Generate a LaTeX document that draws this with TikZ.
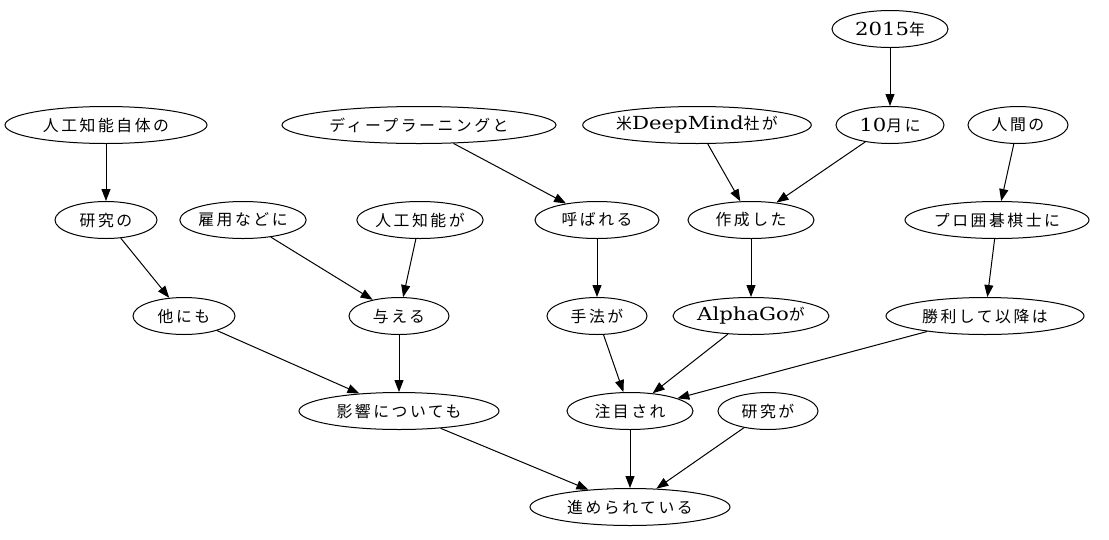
\documentclass[tikz,border=0pt]{standalone}
\usepackage{fontspec}
\setmainfont{DejaVu Serif}[FakeStretch=1.18]
\newfontfamily\jp[Scale=0.88, LetterSpace=16]{Noto Sans CJK JP}
\usetikzlibrary{shapes.geometric, arrows.meta, positioning}

\begin{document}
\begin{tikzpicture}[
        x=1pt, y=-1pt,
        >={Triangle[length=12pt, width=9pt]},
        word/.style={ellipse, draw, line width=1pt, inner sep=0pt, minimum height=37pt, font=\fontsize{18}{21}\selectfont},
        line/.style={draw, line width=1pt, ->}
    ]
        \useasboundingbox (0,0) rectangle (1109,539);

        % Top row
        \node [word, minimum width=116pt] (nen2015) at (890,29) {2015{\jp 年}};

        % Row 1
        \node [word, minimum width=202pt] (jinko_jitai) at (106,125) {\jp 人工知能自体の};
        \node [word, minimum width=274pt] (deep_learning) at (419,125) {\jp ディープラーニングと};
        \node [word, minimum width=224pt] (beikoku_dm) at (697,125) {{\jp 米}DeepMind{\jp 社が}};
        \node [word, minimum width=108pt] (gatsu10) at (890,125) {10{\jp 月に}};
        \node [word, minimum width=100pt] (ningen) at (1018,125) {\jp 人間の};

        % Row 2
        \node [word, minimum width=102pt] (kenkyu_no) at (106,220) {\jp 研究の};
        \node [word, minimum width=124pt] (koyo) at (243,220) {\jp 雇用などに};
        \node [word, minimum width=124pt] (jinko_ga) at (420,220) {\jp 人工知能が};
        \node [word, minimum width=124pt] (yobareru) at (597,220) {\jp 呼ばれる};
        \node [word, minimum width=126pt] (sakusei) at (751,220) {\jp 作成した};
        \node [word, minimum width=184pt] (pro_kishi) at (997,220) {\jp プロ囲碁棋士に};

        % Row 3
        \node [word, minimum width=102pt] (hoka) at (184,316) {\jp 他にも};
        \node [word, minimum width=100pt] (ataeru) at (399,316) {\jp 与える};
        \node [word, minimum width=100pt] (shuho) at (597,316) {\jp 手法が};
        \node [word, minimum width=156pt] (alphago) at (751,316) {AlphaGo{\jp が}};
        \node [word, minimum width=198pt] (shori) at (985,316) {\jp 勝利して以降は};

        % Row 4
        \node [word, minimum width=200pt] (eikyo) at (399,411) {\jp 影響についても};
        \node [word, minimum width=126pt] (chumoku) at (630,411) {\jp 注目され};
        \node [word, minimum width=100pt] (kenkyu_ga) at (768,411) {\jp 研究が};

        % Root
        \node [word, minimum width=200pt] (susumerare) at (630,507) {\jp 進められている};

        % Edges
        \path [line] (nen2015) -- (gatsu10);
        \path [line] (jinko_jitai) -- (kenkyu_no);
        \path [line] (deep_learning) -- (yobareru);
        \path [line] (beikoku_dm) -- (sakusei);
        \path [line] (gatsu10) -- (sakusei);
        \path [line] (ningen) -- (pro_kishi);
        \path [line] (kenkyu_no) -- (hoka);
        \path [line] (koyo) -- (ataeru);
        \path [line] (jinko_ga) -- (ataeru);
        \path [line] (yobareru) -- (shuho);
        \path [line] (sakusei) -- (alphago);
        \path [line] (pro_kishi) -- (shori);
        \path [line] (hoka) -- (eikyo);
        \path [line] (ataeru) -- (eikyo);
        \path [line] (shuho) -- (chumoku);
        \path [line] (alphago) -- (chumoku);
        \path [line] (shori) -- (chumoku);
        \path [line] (eikyo) -- (susumerare);
        \path [line] (chumoku) -- (susumerare);
        \path [line] (kenkyu_ga) -- (susumerare);

    \end{tikzpicture}
\end{document}
